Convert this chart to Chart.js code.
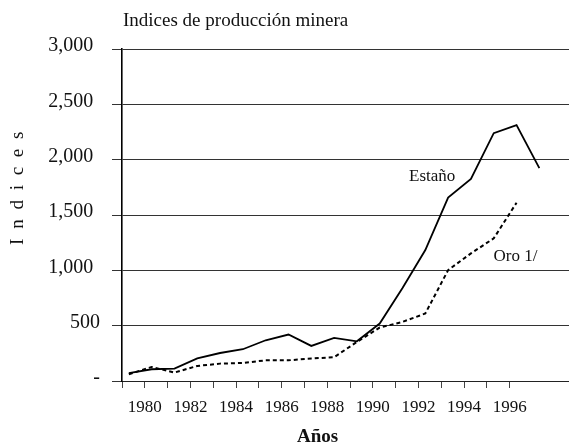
<!DOCTYPE html>
<html>
<head>
<meta charset="utf-8">
<script src="https://cdn.jsdelivr.net/npm/chart.js@4"></script>
<style>
html,body{margin:0;padding:0;background:#fff;}
canvas{display:block;}
</style>
</head>
<body>
<canvas id="c" width="569" height="446"></canvas>
<script>
// ---- data ----
const years = [1979,1980,1981,1982,1983,1984,1985,1986,1987,1988,1989,1990,1991,1992,1993,1994,1995,1996,1997];
const estano = [72,106,112,205,253,287,368,420,317,389,359,519,840,1183,1657,1826,2239,2312,1923];
const oro = [61,127,76,136,157,163,187,187,203,215,353,483,534,610,1002,1153,1289,1611,null];
const xTickYears = [1979,1980,1981,1982,1983,1984,1985,1986,1987,1988,1989,1990,1991,1992,1993,1994,1995,1996];
const xLabelYears = [1980,1982,1984,1986,1988,1990,1992,1994,1996];
const yTicks = [0,500,1000,1500,2000,2500,3000];
const titleText = 'Indices de producción minera';
const yTitle = 'I n d i c e s';
const xTitle = 'Años';
const seriesLabels = [
  {text:'Estaño', year:1992.6, value:1852},
  {text:'Oro 1/', year:1996.25, value:1128}
];

const SERIF = '"Liberation Serif", "Times New Roman", serif';
const pointShift = 0.3; // points sit between year ticks

const toPts = arr => years.map((y,i)=>({x:y+pointShift, y:arr[i]})).filter(p=>p.y!==null);

const textPlugin = {
  id:'texts',
  afterDraw(chart){
    const ctx = chart.ctx;
    const xs = chart.scales.x, ys = chart.scales.y;
    ctx.save();
    ctx.fillStyle = '#111';
    // title
    ctx.font = '19px ' + SERIF;
    ctx.textAlign = 'left';
    ctx.textBaseline = 'alphabetic';
    ctx.fillText(titleText, 123, 26);
    // series labels
    ctx.font = '17px ' + SERIF;
    ctx.textAlign = 'center';
    ctx.textBaseline = 'middle';
    seriesLabels.forEach(l=>{
      ctx.fillText(l.text, xs.getPixelForValue(l.year), ys.getPixelForValue(l.value));
    });
    // x title
    ctx.font = 'bold 19px ' + SERIF;
    ctx.textAlign = 'center';
    ctx.textBaseline = 'middle';
    ctx.fillText(xTitle, 317.5, 437);
    // y title
    ctx.save();
    ctx.translate(22.5, 187);
    ctx.rotate(-Math.PI/2);
    ctx.font = '19px ' + SERIF;
    try { ctx.letterSpacing = '2.5px'; } catch(e) {}
    ctx.textAlign = 'center';
    ctx.textBaseline = 'alphabetic';
    ctx.fillText(yTitle, 0, 0);
    ctx.restore();
    ctx.restore();
  }
};

new Chart(document.getElementById('c'), {
  type:'line',
  data:{
    datasets:[
      {label:'Estaño', data:toPts(estano), borderColor:'#000', borderWidth:1.8, pointRadius:0, tension:0, fill:false},
      {label:'Oro 1/', data:toPts(oro), borderColor:'#000', borderWidth:2, borderDash:[4,3], pointRadius:0, tension:0, fill:false}
    ]
  },
  options:{
    responsive:false,
    animation:false,
    devicePixelRatio:1,
    layout:{padding:{top:49, right:0, left:0, bottom:0}},
    plugins:{legend:{display:false}, tooltip:{enabled:false}, title:{display:false}},
    scales:{
      x:{
        type:'linear',
        min:1979, max:1998.6,
        afterBuildTicks(scale){ scale.ticks = xTickYears.map(v=>({value:v})); },
        afterFit(scale){ scale.height = 65; },
        grid:{drawOnChartArea:false, drawTicks:true, tickLength:7, color:'#444', lineWidth:1},
        border:{display:true, color:'#222', width:1},
        ticks:{
          autoSkip:false, maxRotation:0, padding:9,
          color:'#111',
          font:{family:SERIF, size:17},
          callback:(v)=> xLabelYears.includes(v) ? String(v) : ''
        }
      },
      y:{
        min:0, max:3000,
        afterBuildTicks(scale){ scale.ticks = yTicks.map(v=>({value:v})); },
        afterFit(scale){ scale.width = 122; },
        grid:{drawOnChartArea:true, drawTicks:true, tickLength:10, color:'#333', lineWidth:1},
        border:{display:true, color:'#000', width:1.6},
        ticks:{
          padding:12, labelOffset:-3,
          color:'#111',
          font:{family:SERIF, size:20},
          callback:(v)=> v===0 ? '-' : (v.toLocaleString('en-US') + (v>=1000 ? ' \u200A' : ''))
        }
      }
    }
  },
  plugins:[textPlugin]
});
</script>
</body>
</html>
